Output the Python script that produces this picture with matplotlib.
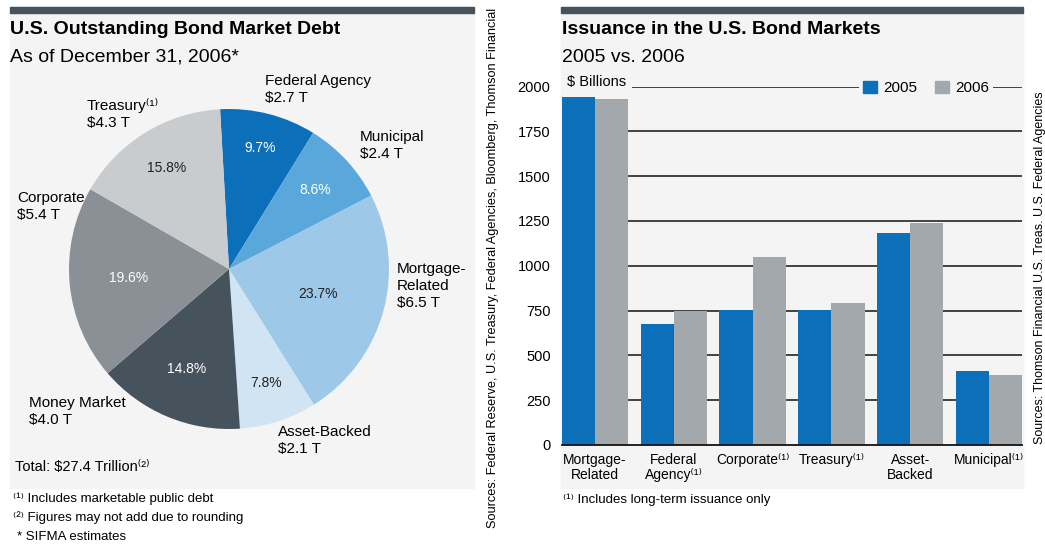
import numpy as np
import matplotlib
matplotlib.use("Agg")
import matplotlib.pyplot as plt
from matplotlib.patches import Rectangle, Patch

# pie data (share of total outstanding debt, %)
pie_names = ["Federal Agency", "Municipal", "Mortgage-\nRelated", "Asset-Backed",
             "Money Market", "Corporate", "Treasury⁽¹⁾"]
pie_amounts = ["$2.7 T", "$2.4 T", "$6.5 T", "$2.1 T", "$4.0 T", "$5.4 T", "$4.3 T"]
pie_pct = [9.7, 8.6, 23.7, 7.8, 14.8, 19.6, 15.8]

# bar data ($ billions)
bar_cats = ["Mortgage-\nRelated", "Federal\nAgency⁽¹⁾", "Corporate⁽¹⁾", "Treasury⁽¹⁾",
            "Asset-\nBacked", "Municipal⁽¹⁾"]
issue_2005 = [1940, 675, 755, 755, 1180, 412]
issue_2006 = [1930, 750, 1050, 790, 1240, 390]
yticks = [0, 250, 500, 750, 1000, 1250, 1500, 1750, 2000]

FONT = ["Liberation Sans Narrow", "Liberation Sans", "DejaVu Sans"]
plt.rcParams["font.family"] = FONT

W, H = 1045, 547
BG = "#f4f4f4"
BAR_DARK = "#46525c"
BLUE = "#0b6fba"
GRAY = "#a3a8ad"
pie_colors = ["#0b6fba", "#5aa8db", "#9dc8e7", "#d0e4f4", "#46525c", "#8a9096", "#c9cccf"]
pct_colors = ["white", "white", "#222222", "#222222", "white", "white", "#222222"]
pct_dist = [0.78, 0.73, 0.58, 0.75, 0.68, 0.63, 0.74]


def fx(px):
    return px / W


def fy(py):
    return 1 - py / H


def box(x0, y0, x1, y1):
    return [fx(x0), fy(y1), fx(x1) - fx(x0), (y1 - y0) / H]


def ftext(x, y, s, **kw):
    fig.text(fx(x), fy(y), s, **kw)


fig = plt.figure(figsize=(W / 100, H / 100), dpi=100)

# panel backgrounds and top bars
for x0, x1 in [(10, 474), (561, 1023)]:
    fig.patches.append(Rectangle((fx(x0), fy(488)), fx(x1) - fx(x0), (488 - 13) / H,
                                 transform=fig.transFigure, color=BG, zorder=-10))
    fig.patches.append(Rectangle((fx(x0), fy(13)), fx(x1) - fx(x0), 6 / H,
                                 transform=fig.transFigure, color=BAR_DARK, zorder=-10))

# ---------- left: pie ----------
ftext(10, 29, "U.S. Outstanding Bond Market Debt", fontsize=14, fontweight="bold", va="center")
ftext(10, 57, "As of December 31, 2006*", fontsize=14, va="center")

axp = fig.add_axes(box(69, 109, 389, 429))
wedges, _ = axp.pie(pie_pct, colors=pie_colors, startangle=93.2, counterclock=False,
                    radius=1, wedgeprops=dict(linewidth=0))
axp.set_xlim(-1, 1)
axp.set_ylim(-1, 1)
axp.set_aspect("equal")
axp.axis("off")
for w, p, c, d in zip(wedges, pie_pct, pct_colors, pct_dist):
    ang = np.deg2rad((w.theta1 + w.theta2) / 2)
    axp.text(d * np.cos(ang), d * np.sin(ang), f"{p}%", color=c, fontsize=10,
             ha="center", va="center")

label_pos = [(265, 74), (360, 130), (397, 262), (278, 425), (29, 396), (17, 191), (87, 98)]
for (x, y), n, a in zip(label_pos, pie_names, pie_amounts):
    ftext(x, y, n + "\n" + a, fontsize=11, va="top", ha="left", linespacing=1.25)

ftext(15, 467, "Total: $27.4 Trillion⁽²⁾", fontsize=10.5, va="center")
ftext(13, 499, "⁽¹⁾ Includes marketable public debt", fontsize=9.5, va="center")
ftext(13, 518, "⁽²⁾ Figures may not add due to rounding", fontsize=9.5, va="center")
ftext(17, 537, "* SIFMA estimates", fontsize=9.5, va="center")

ftext(493, 268, "Sources: Federal Reserve, U.S. Treasury, Federal Agencies, Bloomberg, Thomson Financial",
      fontsize=9.2, rotation=90, ha="center", va="center")

# ---------- right: bars ----------
ftext(562, 29, "Issuance in the U.S. Bond Markets", fontsize=14, fontweight="bold", va="center")
ftext(562, 57, "2005 vs. 2006", fontsize=14, va="center")

axb = fig.add_axes(box(561.7, 86.5, 1022.3, 444.9))
axb.set_facecolor("none")
x = np.arange(len(bar_cats))
bw = 0.42
axb.bar(x - bw / 2, issue_2005, width=bw, color=BLUE, zorder=2)
axb.bar(x + bw / 2, issue_2006, width=bw, color=GRAY, zorder=2)
for t in yticks[1:]:
    axb.axhline(t, color="#111111", linewidth=1.1, zorder=1)
axb.set_xlim(-bw, len(bar_cats) - 1 + bw)
axb.set_ylim(0, 2000)
axb.set_yticks(yticks)
axb.set_xticks(x)
axb.set_xticklabels(bar_cats, fontsize=10, linespacing=1.05)
axb.tick_params(axis="both", length=0, labelsize=10.5)
axb.tick_params(axis="x", labelsize=10)
axb.tick_params(axis="y", pad=8)
axb.tick_params(axis="x", pad=6)
for s in ["top", "right", "left"]:
    axb.spines[s].set_visible(False)
axb.spines["bottom"].set_color("#111111")
axb.spines["bottom"].set_linewidth(1.3)

axb.text(0.012, 1.012, "$ Billions", transform=axb.transAxes, fontsize=10.5,
         va="center", ha="left", zorder=5,
         bbox=dict(facecolor=BG, edgecolor="none", pad=4))
leg = axb.legend(handles=[Patch(color=BLUE, label="2005"), Patch(color=GRAY, label="2006")],
                 loc="center", bbox_to_anchor=(fx(926), fy(88)), bbox_transform=fig.transFigure,
                 ncol=2, frameon=True, fontsize=11, handlelength=0.9, handleheight=0.9,
                 handletextpad=0.4, columnspacing=1.2, borderpad=0.25, borderaxespad=0)
leg.get_frame().set_facecolor(BG)
leg.get_frame().set_edgecolor("none")
leg.get_frame().set_alpha(1)
leg.set_zorder(5)

ftext(563, 500, "⁽¹⁾ Includes long-term issuance only", fontsize=9.5, va="center")
ftext(1040, 268, "Sources: Thomson Financial U.S. Treas. U.S. Federal Agencies",
      fontsize=9, rotation=90, ha="center", va="center")

fig.savefig("out.png", dpi=100)
